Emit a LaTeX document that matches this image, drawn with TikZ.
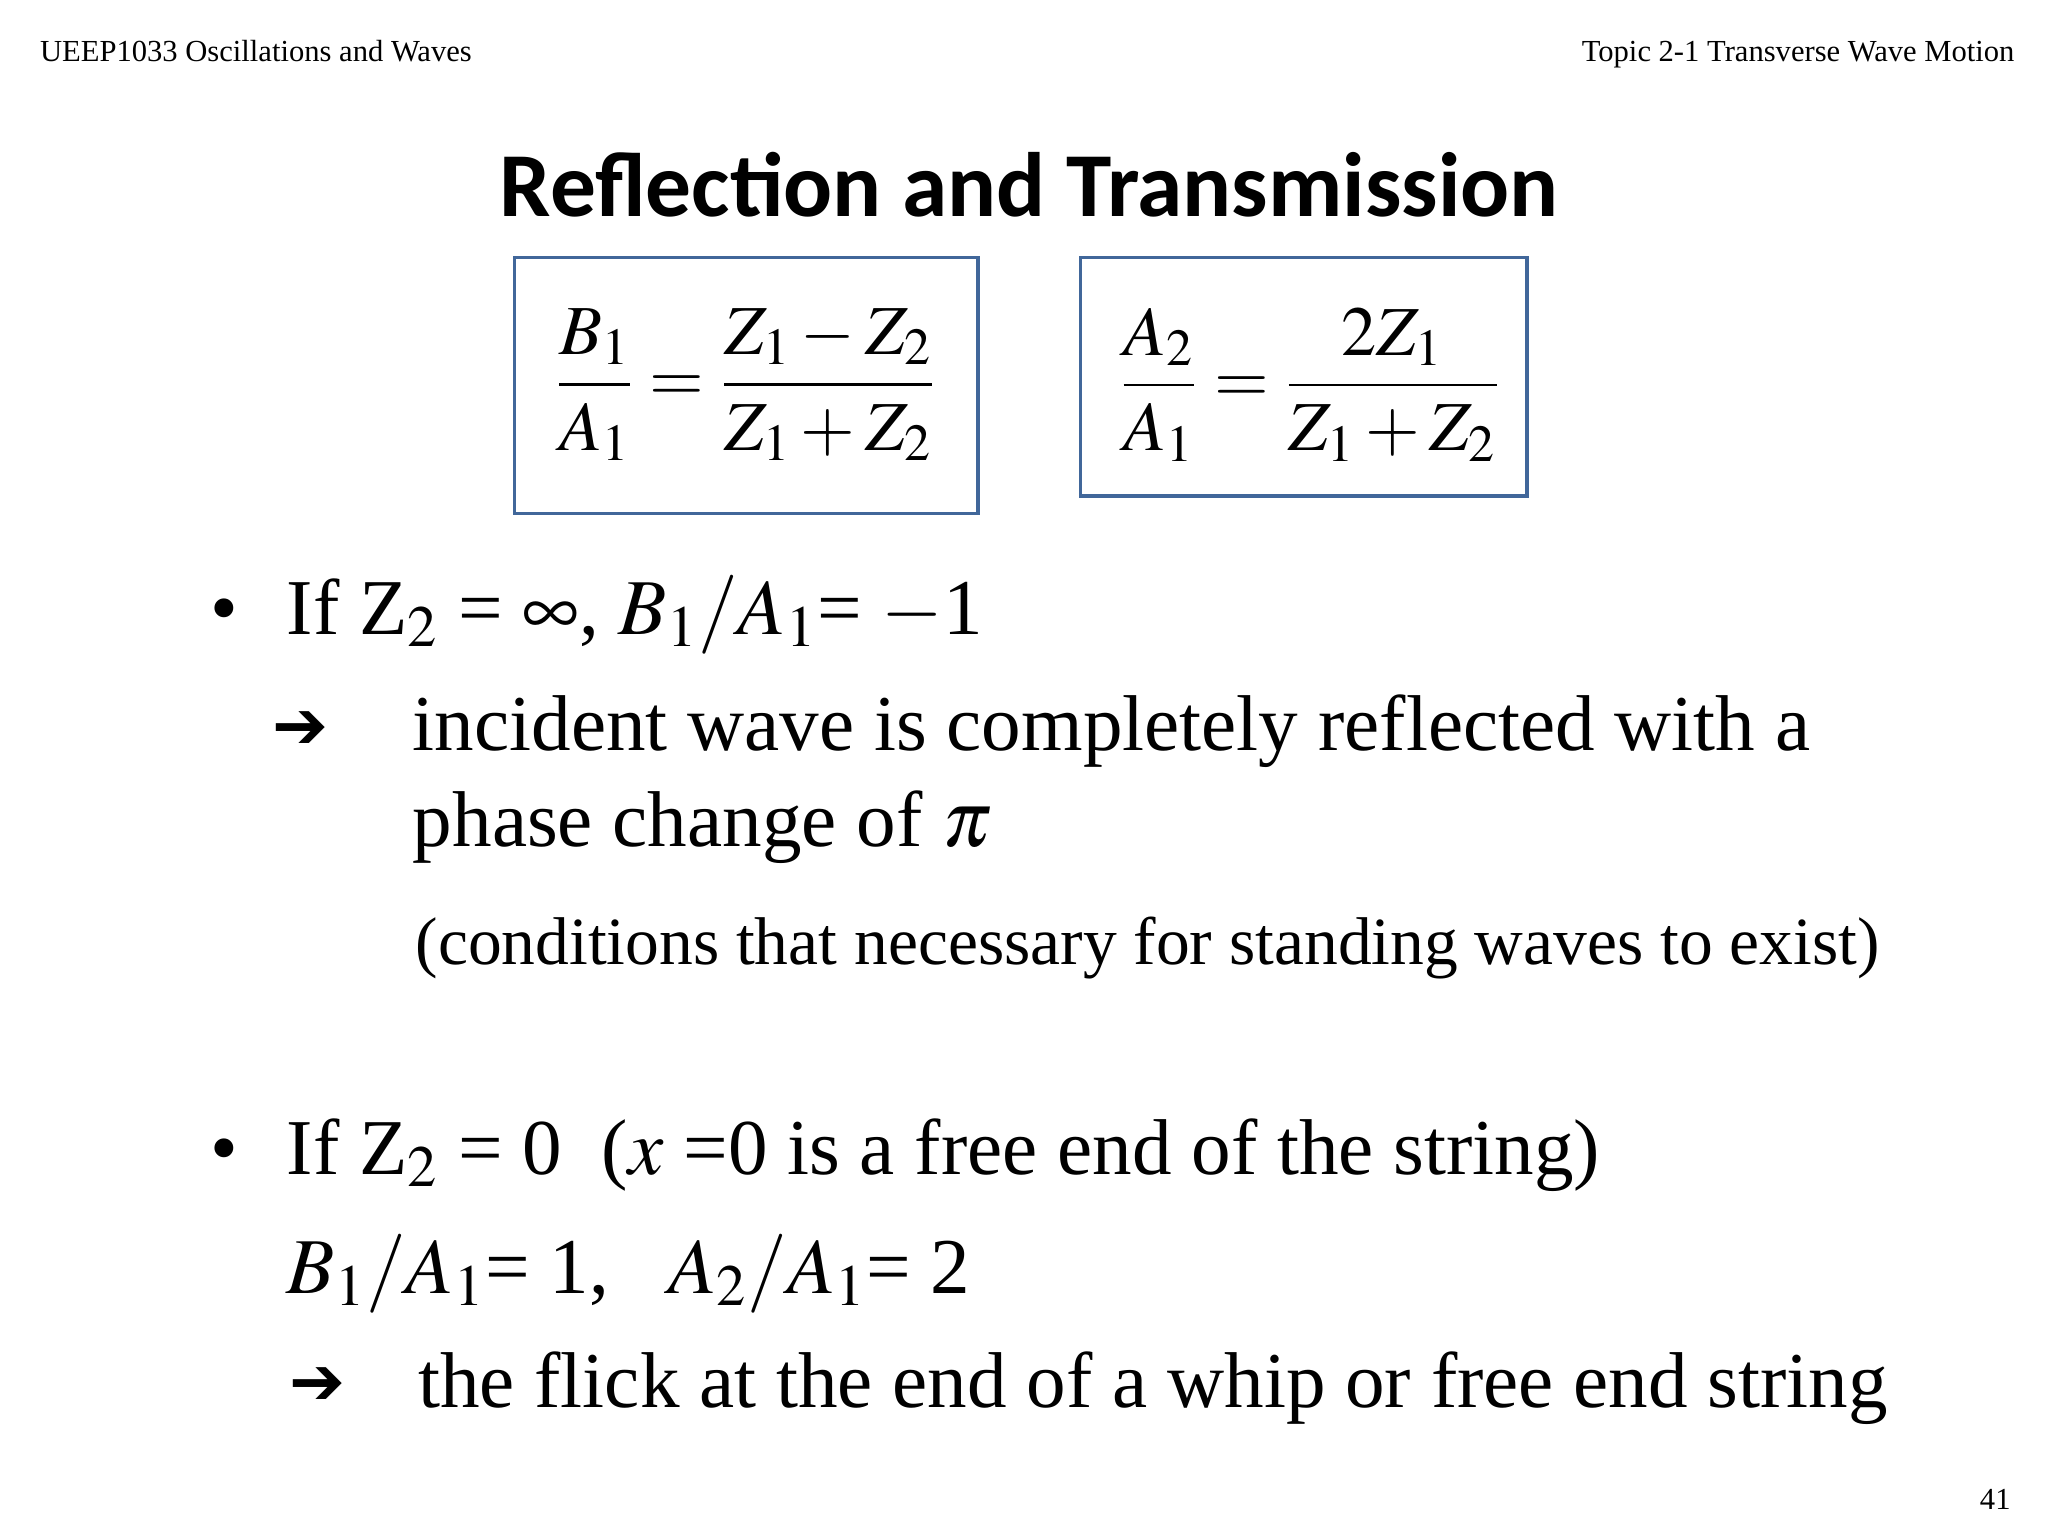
\documentclass[tikz,border=0pt]{standalone}
\usepackage{mathptmx}
\usepackage[no-math]{fontspec}
\setmainfont{Liberation Serif}
\newfontfamily\titlefont{Carlito}
\newfontfamily\symfont{DejaVu Sans}
\definecolor{boxblue}{RGB}{65,103,154}
\begin{document}
\begin{tikzpicture}[x=0.01313cm,y=-0.01313cm,
  hdr/.style={inner sep=0,font=\fontsize{8.7}{10}\selectfont},
  body/.style={inner sep=0,anchor=base west,font=\fontsize{22.5}{26}\selectfont},
  fbox/.style={draw=boxblue,line width=1pt,fill=white}]
\useasboundingbox (0,0) rectangle (1560,1170);
\node[hdr,anchor=base west] (hl) at (30,47) {UEEP1033 Oscillations and Waves};
\node[hdr,anchor=base east] (hr) at (1535,47) {Topic 2-1 Transverse Wave Motion};
\node[inner sep=0,anchor=base,font=\titlefont\bfseries\fontsize{26}{30}\selectfont] (title) at (784,165) {Reflection and Transmission};
\draw[fbox] (392,196) rectangle (745,391);
\draw[fbox] (823,196) rectangle (1163,378);
\node[inner sep=0,font=\fontsize{20}{24}\selectfont] (f1) at (568,293) {$\displaystyle \frac{B_1}{A_1}=\frac{Z_1-Z_2}{Z_1+Z_2}$};
\node[inner sep=0,font=\fontsize{20}{24}\selectfont] (f2) at (998,293) {$\displaystyle \frac{A_2}{A_1}=\frac{\;2Z_1\;}{Z_1+Z_2}$};
\node[body] (b1) at (160,483) {•};
\node[body] (t1) at (218,483) {If Z$_2$ = $\infty$, $B_1/A_1$= $-$1};
\node[body,font=\symfont\bfseries\fontsize{19}{22}\selectfont] (a1) at (207,570) {➔};
\node[body] (t2) at (314,572) {incident wave is completely reflected with a};
\node[body] (t3) at (314,645) {phase change of $\pi$};
\node[body,font=\fontsize{19.2}{22}\selectfont] (t4) at (316,735) {(conditions that necessary for standing waves to exist)};
\node[body] (b2) at (160,895) {•};
\node[body] (t5) at (218,895) {If Z$_2$ = 0\ \ ($x$ =0 is a free end of the string)};
\node[body] (t6) at (218,985) {$B_1/A_1$= 1,\ \ \ $A_2/A_1$= 2};
\node[body,font=\symfont\bfseries\fontsize{19}{22}\selectfont] (a2) at (220,1070) {➔};
\node[body] (t7) at (318,1072) {the flick at the end of a whip or free end string};
\node[hdr,anchor=base east] (pg) at (1532,1150) {41};
\end{tikzpicture}
\end{document}
